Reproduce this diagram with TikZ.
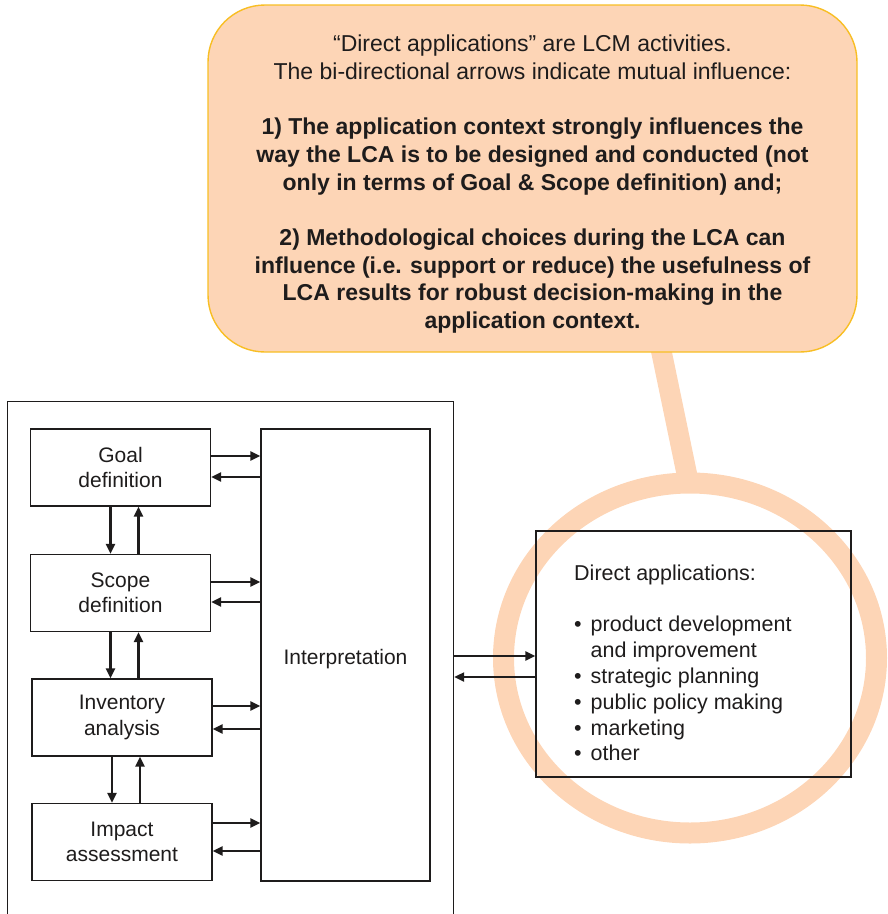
\documentclass[tikz,border=0pt]{standalone}
\usepackage{fontspec}
\setmainfont{Liberation Sans}
\usetikzlibrary{arrows.meta}

\definecolor{peach}{RGB}{253,213,182}
\definecolor{amber}{RGB}{248,190,36}
\definecolor{ink}{RGB}{30,28,28}

\tikzset{
  stage/.style={draw=ink, line width=1.2pt, minimum width=180pt, minimum height=77pt,
    inner sep=0pt, align=center, text=ink, font=\fontsize{21}{25.5}\selectfont},
  flow/.style={draw=ink, line width=2.2pt, -{Triangle[length=10pt,width=9pt]}},
  ring/.style={draw=peach, line width=21pt},
  callout/.style={fill=peach, draw=amber, line width=1.4pt, rounded corners=57pt,
    minimum width=649pt, minimum height=347pt, align=center, text=ink,
    font=\fontsize{23}{27.7}\selectfont}
}

\begin{document}
\begin{tikzpicture}[x=1pt, y=-1pt]
  \useasboundingbox (0,0) rectangle (888,914);
  \clip (0,0) rectangle (888,914);

  \draw[ring, line width=20.5pt] (650.7,300) -- (688.7,483);
  \draw[ring] (690,658) ellipse [x radius=186.5pt, y radius=175pt];

  \node[callout] (note) at (532.5,178.5) {%
    \rule{0pt}{28pt}“Direct applications” are LCM activities.\\
    The bi-directional arrows indicate mutual influence:\\[27.7pt]
    \textbf{1) The application context strongly influences the}\\
    \textbf{way the LCA is to be designed and conducted (not}\\
    \textbf{only in terms of Goal \& Scope definition) and;}\\[27.7pt]
    \textbf{2) Methodological choices during the LCA can}\\
    \textbf{influence (i.e. support or reduce) the usefulness of}\\
    \textbf{LCA results for robust decision-making in the}\\
    \textbf{application context.}};

  \node[draw=ink, line width=1.2pt, minimum width=446pt, minimum height=560pt,
    inner sep=0pt, anchor=north west] (lca) at (7,401) {};

  \node[stage] (goal) at (120.5,467.5) {Goal\\definition};
  \node[stage] (scope) at (120.5,593) {Scope\\definition};
  \node[stage] (inv) at (122,717.5) {Inventory\\analysis};
  \node[stage] (impact) at (122,842) {Impact\\assessment};
  \node[stage, minimum width=169pt, minimum height=452pt, text height=19pt,
    text depth=0pt] (interp) at (345.5,655) {Interpretation};

  \node[draw=ink, line width=1.2pt, minimum width=315pt, minimum height=246pt,
    inner sep=0pt] (apps) at (693.5,654) {};
  \node[anchor=north west, inner sep=0pt, text=ink,
    font=\fontsize{21.5}{25.8}\selectfont] (applist) at (574,562) {%
    \begin{tabular}{@{}l@{\hspace{9pt}}l@{}}
      \multicolumn{2}{@{}l@{}}{Direct applications:}\\
      \\
      \textbullet & product development\\
                  & and improvement\\
      \textbullet & strategic planning\\
      \textbullet & public policy making\\
      \textbullet & marketing\\
      \textbullet & other
    \end{tabular}};

  \foreach \s/\up/\dn in {goal/11.5/-9.5, scope/11/-9, inv/11.5/-11.5, impact/19/-9} {
    \draw[flow] ([yshift=\up pt]\s.east) -- ([yshift=\up pt]\s.east -| interp.west);
    \draw[flow] ([yshift=\dn pt]\s.east -| interp.west) -- ([yshift=\dn pt]\s.east);
  }
  \foreach \a/\b in {goal/scope, scope/inv, inv/impact} {
    \draw[flow] ([xshift=-10pt]\a.south) -- ([xshift=-10pt]\a.south |- \b.north);
    \draw[flow] ([xshift=18pt]\a.south |- \b.north) -- ([xshift=18pt]\a.south);
  }

  \draw[flow] ([yshift=-2pt]apps.west -| lca.east) -- ([yshift=-2pt]apps.west);
  \draw[flow] ([yshift=-23pt]apps.west) -- ([yshift=-23pt]apps.west -| lca.east);
\end{tikzpicture}
\end{document}
